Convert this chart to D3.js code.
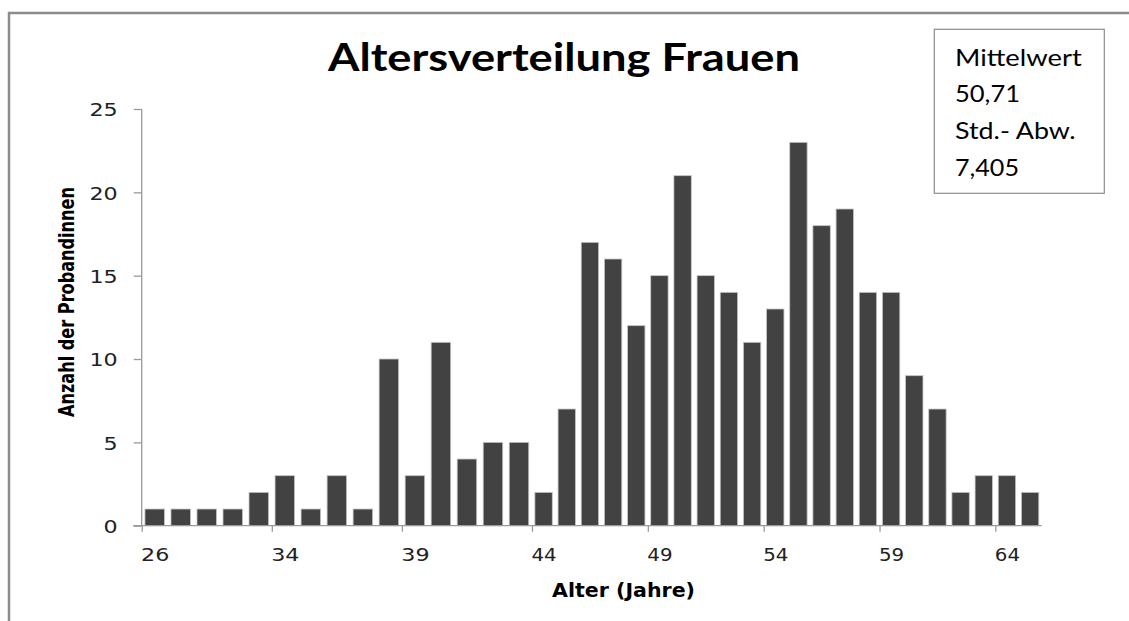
<!DOCTYPE html>
<html>
<head>
<meta charset="utf-8">
<script src="https://cdn.jsdelivr.net/npm/d3@7"></script>
<style>
  html, body { margin: 0; padding: 0; background: #fff; }
  svg { display: block; }
</style>
</head>
<body>
<svg id="chart" width="1129" height="621"></svg>
<script>
// ---- data ----
const ages = [26, 28, 30, 32, 33, 34, 35, 36, 37, 38, 39, 40, 41, 42, 43, 44, 45, 46, 47, 48,
              49, 50, 51, 52, 53, 54, 55, 56, 57, 58, 59, 60, 61, 62, 63, 64, 65];
const counts = [1, 1, 1, 1, 2, 3, 1, 3, 1, 10, 3, 11, 4, 5, 5, 2, 7, 17, 16, 12,
                15, 21, 15, 14, 11, 13, 23, 18, 19, 14, 14, 9, 7, 2, 3, 3, 2];
const yTicks = [0, 5, 10, 15, 20, 25];
const xTickLabels = ["26", "34", "39", "44", "49", "54", "59", "64"];
const statsLines = ["Mittelwert", "50,71", "Std.- Abw.", "7,405"];
const titleText = "Altersverteilung Frauen";
const xTitle = "Alter (Jahre)";
const yTitle = "Anzahl der Probandinnen";

// ---- layout ----
const svg = d3.select("#chart");
const n = ages.length;
const left = 141.7, mid = 532, right = 1041.7;
const yBottom = 525.7, yTop = 109;

// piecewise linear category-index scale (reference is unevenly stretched)
const x = d3.scaleLinear().domain([0, 15, n]).range([left, mid, right]);
const y = d3.scaleLinear().domain([0, 25]).range([yBottom, yTop]);

// outer frame (top and left edges visible)
svg.append("line").attr("x1", 8).attr("x2", 1129).attr("y1", 13).attr("y2", 13)
  .attr("stroke", "#8c8c8c").attr("stroke-width", 2.5);
svg.append("line").attr("x1", 9).attr("x2", 9).attr("y1", 12).attr("y2", 621)
  .attr("stroke", "#8c8c8c").attr("stroke-width", 2.5);

// bars
const inset = 0.125;
svg.append("g").selectAll("rect").data(counts).join("rect")
  .attr("x", (d, i) => x(i + inset))
  .attr("width", (d, i) => x(i + 1 - inset) - x(i + inset))
  .attr("y", d => y(d))
  .attr("height", d => y(0) - y(d))
  .attr("fill", "#424242")
  .attr("stroke", "#c4c4c4")
  .attr("stroke-width", 0.8);

const axisColor = "#9a9a9a";
const tickFont = "DejaVu Sans, Verdana, sans-serif";

function stretch(sel, factorFn) {
  sel.each(function (d, i) {
    const w = this.getComputedTextLength();
    d3.select(this).attr("textLength", w * factorFn(d, i)).attr("lengthAdjust", "spacingAndGlyphs");
  });
}

// y axis
const yAxis = svg.append("g").attr("transform", `translate(${left},0)`)
  .call(d3.axisLeft(y).tickValues(yTicks).tickSize(8).tickPadding(16).tickFormat(d3.format("d")));
yAxis.select(".domain").attr("stroke", axisColor).attr("stroke-width", 1.3)
  .attr("d", `M0,${yTop}V${yBottom}`);
yAxis.selectAll(".tick line").attr("stroke", axisColor).attr("stroke-width", 1.3);
yAxis.selectAll(".tick text").attr("font-family", tickFont)
  .attr("font-size", 18.5).attr("fill", "#222").attr("dy", "0.37em")
  .call(stretch, () => 1.2);

// x axis: tick marks at category boundaries every 5 categories
const tickIdx = d3.range(0, n, 5);
const xAxisTicks = svg.append("g").attr("transform", `translate(0,${yBottom})`)
  .call(d3.axisBottom(x).tickValues(tickIdx).tickSize(6).tickFormat(""));
xAxisTicks.select(".domain").attr("stroke", axisColor).attr("stroke-width", 1.3)
  .attr("d", `M${left - 8.5},0H${right}`);
xAxisTicks.selectAll(".tick line").attr("stroke", axisColor).attr("stroke-width", 1.3);

// x labels centered on their category
const xAxisLabels = svg.append("g").attr("transform", `translate(0,${yBottom})`)
  .call(d3.axisBottom(x).tickValues(tickIdx.map(i => i + 0.5)).tickSize(0).tickPadding(22)
    .tickFormat((d, k) => xTickLabels[k]));
xAxisLabels.select(".domain").remove();
xAxisLabels.selectAll(".tick text").attr("font-family", tickFont)
  .attr("font-size", 18.5).attr("fill", "#222")
  .call(stretch, d => (d < 15 ? 1.2 : 1.07));

// title
svg.append("text").attr("x", 328).attr("y", 71)
  .attr("font-family", "Lato, 'Open Sans', sans-serif").attr("font-weight", 700)
  .attr("font-size", 37.5).attr("fill", "#000")
  .attr("textLength", 472).attr("lengthAdjust", "spacingAndGlyphs")
  .text(titleText);

// x axis title
svg.append("text").attr("x", 552).attr("y", 597)
  .attr("font-family", "DejaVu Sans, Verdana, sans-serif").attr("font-weight", 700)
  .attr("font-size", 19.5).attr("fill", "#000")
  .attr("textLength", 143).attr("lengthAdjust", "spacingAndGlyphs")
  .text(xTitle);

// y axis title
svg.append("text").attr("transform", "translate(73.5,417) rotate(-90)")
  .attr("font-family", "'Liberation Sans Narrow', 'DejaVu Sans Condensed', sans-serif")
  .attr("font-weight", 700).attr("font-size", 22).attr("fill", "#000")
  .attr("textLength", 230).attr("lengthAdjust", "spacingAndGlyphs")
  .text(yTitle);

// stats box
svg.append("rect").attr("x", 934.3).attr("y", 29.3).attr("width", 170).attr("height", 164)
  .attr("fill", "#fff").attr("stroke", "#8c8c8c").attr("stroke-width", 1.2);
const statsWidths = [126.7, 65, 120.7, 64];
svg.append("g").selectAll("text").data(statsLines).join("text")
  .attr("x", 955).attr("y", (d, i) => 65.7 + i * 36.6)
  .attr("font-family", "Lato, 'Open Sans', sans-serif").attr("font-size", 23).attr("fill", "#000")
  .attr("textLength", (d, i) => statsWidths[i]).attr("lengthAdjust", "spacingAndGlyphs")
  .text(d => d);
</script>
</body>
</html>
